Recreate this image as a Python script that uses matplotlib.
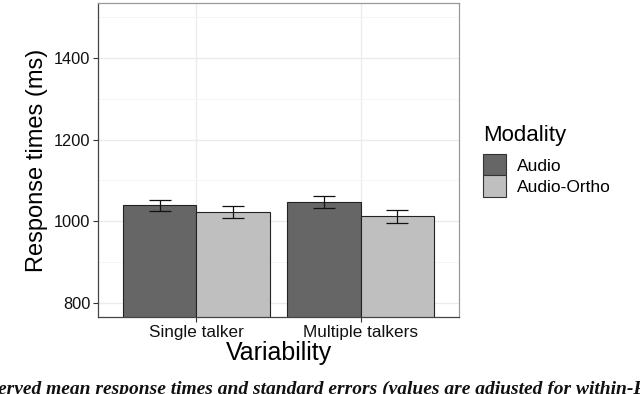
import matplotlib
matplotlib.use("Agg")
import matplotlib.pyplot as plt
from matplotlib.patches import Patch
import numpy as np

categories = ["Single talker", "Multiple talkers"]
modalities = ["Audio", "Audio-Ortho"]
audio_means = [1039, 1048]
audio_se = [13.5, 14.5]
ortho_means = [1022, 1012]
ortho_se = [14, 15.5]
colors = ["#666666", "#bfbfbf"]
yticks = [800, 1000, 1200, 1400]

plt.rcParams['font.family'] = ['Liberation Sans', 'DejaVu Sans']

fig = plt.figure(figsize=(6.4, 3.94), dpi=100)
ax = fig.add_axes([98/640, 77/394, 361/640, 314/394])

x = np.arange(1, len(categories) + 1)
w = 0.45
for i, (means, ses) in enumerate([(audio_means, audio_se), (ortho_means, ortho_se)]):
    pos = x + (i - 0.5) * w
    ax.bar(pos, means, width=w, color=colors[i], edgecolor="#222222", linewidth=0.8, zorder=2)
    ax.errorbar(pos, means, yerr=ses, fmt='none', ecolor="#111111", elinewidth=0.9,
                capsize=8, capthick=0.9, zorder=3)

ax.set_xlim(0.4, 2.6)
ax.set_ylim(765, 1535)
ax.set_xticks(x)
ax.set_xticklabels(categories, fontsize=12.3)
ax.set_yticks(yticks)
ax.set_yticklabels([str(v) for v in yticks], fontsize=11.8)
ax.set_yticks([900, 1100, 1300, 1500], minor=True)
ax.grid(True, which='major', color="#ebebeb", linewidth=1.0, zorder=0)
ax.grid(True, which='minor', axis='y', color="#f3f3f3", linewidth=0.6, zorder=0)
ax.set_axisbelow(True)
ax.tick_params(axis='both', which='major', length=3.5, width=0.8, color="#333333", labelcolor="#111111", pad=2)
ax.tick_params(axis='y', which='minor', length=0)
for s in ax.spines.values():
    s.set_color("#444444")
    s.set_linewidth(0.9)
ax.spines['top'].set_color("#999999")
ax.spines['right'].set_color("#999999")

ax.set_xlabel("Variability", fontsize=18, labelpad=1)
ax.set_ylabel("Response times (ms)", fontsize=17, labelpad=4)

handles = [Patch(facecolor=colors[i], edgecolor="#333333", linewidth=0.8, label=modalities[i]) for i in range(2)]
leg = fig.legend(handles=handles, title="Modality", loc='upper left',
                 bbox_to_anchor=(476/640, 1 - 118/394), frameon=False,
                 fontsize=12.5, title_fontsize=16, handlelength=1.35, handleheight=1.5,
                 handletextpad=0.6, labelspacing=0.0, borderaxespad=0)
leg._legend_box.align = "left"
leg._legend_box.sep = 6

fig.text(-2/640, 0/394, "erved mean response times and standard errors (values are adjusted for within-Participant",
         family=['Liberation Serif', 'DejaVu Serif'], style='italic', weight='bold', fontsize=14,
         ha='left', va='baseline', color="#111111")

fig.savefig("out.png", dpi=100)
